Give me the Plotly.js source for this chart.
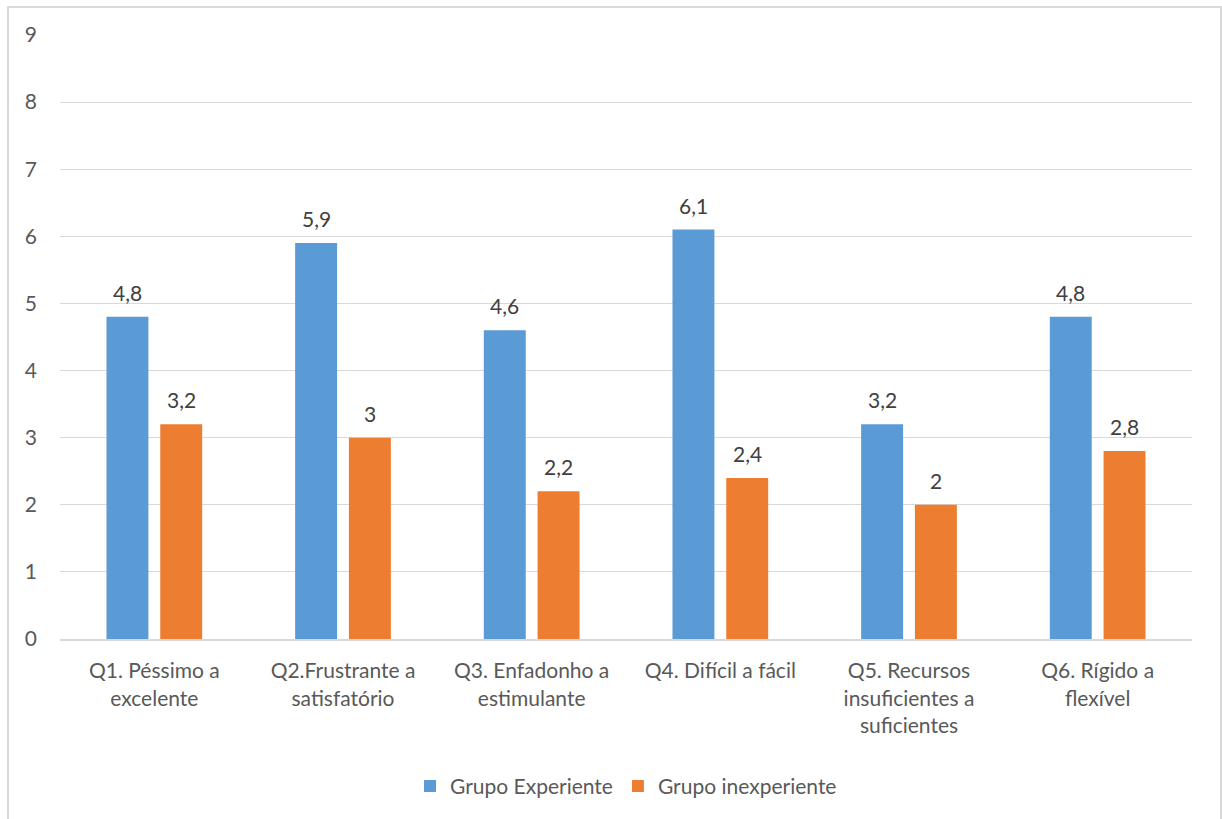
<!DOCTYPE html>
<html>
<head>
<meta charset="utf-8">
<script src="https://cdn.plot.ly/plotly-3.0.1.min.js"></script>
<style>
html,body{margin:0;padding:0;background:#fff;}
#chart{width:1222px;height:819px;}
#frame{position:absolute;left:7px;top:6px;width:1211px;height:820px;border:2px solid #d9d9d9;pointer-events:none;}
</style>
</head>
<body>
<div id="chart"></div>
<div id="frame"></div>
<script>
const categories = [
  "Q1. Péssimo a<br>excelente",
  "Q2.Frustrante a<br>satisfatório",
  "Q3. Enfadonho a<br>estimulante",
  "Q4. Difícil a fácil",
  "Q5. Recursos<br>insuficientes a<br>suficientes",
  "Q6. Rígido a<br>flexível"
];
const experiente = [4.8, 5.9, 4.6, 6.1, 3.2, 4.8];
const inexperiente = [3.2, 3.0, 2.2, 2.4, 2.0, 2.8];
const yTicks = [0,1,2,3,4,5,6,7,8,9];

const font = "Lato, 'Open Sans', sans-serif";
const traces = [
  {type:'bar', name:'Grupo Experiente', x:categories, y:experiente, marker:{color:'#5B9BD5'}},
  {type:'bar', name:'Grupo inexperiente', x:categories, y:inexperiente, marker:{color:'#ED7D31'}}
];
function fmt(v){ return String(v).replace('.', ','); }
const annotations = [];
categories.forEach((c,i)=>{
  annotations.push({x:c, y:experiente[i], text:fmt(experiente[i]), showarrow:false, xshift:-27, yanchor:'bottom', yshift:10,
    font:{size:21,color:'#404040',family:font}});
  annotations.push({x:c, y:inexperiente[i], text:fmt(inexperiente[i]), showarrow:false, xshift:27, yanchor:'bottom', yshift:10,
    font:{size:21,color:'#404040',family:font}});
});
const layout = {
  width:1222, height:819,
  margin:{l:60, r:30, t:35, b:178},
  paper_bgcolor:'#fff', plot_bgcolor:'#fff',
  separators:',.',
  font:{family:font, size:21, color:'#595959'},
  barmode:'group', bargap:0.43, bargroupgap:0.22,
  showlegend:true,
  annotations:annotations,
  legend:{orientation:'h', x:0.5, xanchor:'center', y:-0.21, yanchor:'top',
          font:{size:21,color:'#595959'}, itemwidth:30, tracegroupgap:0},
  xaxis:{showgrid:false, showline:true, linecolor:'#d9d9d9', linewidth:2,
         tickfont:{size:21,color:'#595959'}, ticks:'', ticklabelstandoff:12, automargin:false},
  yaxis:{range:[0,9], tickvals:yTicks, showgrid:true, gridcolor:'#d9d9d9', gridwidth:1,
         zeroline:false, showline:false, ticks:'', ticklabelstandoff:22,
         tickfont:{size:21,color:'#595959'}, automargin:false}
};
Plotly.newPlot('chart', traces, layout, {displayModeBar:false, staticPlot:true});
</script>
</body>
</html>
